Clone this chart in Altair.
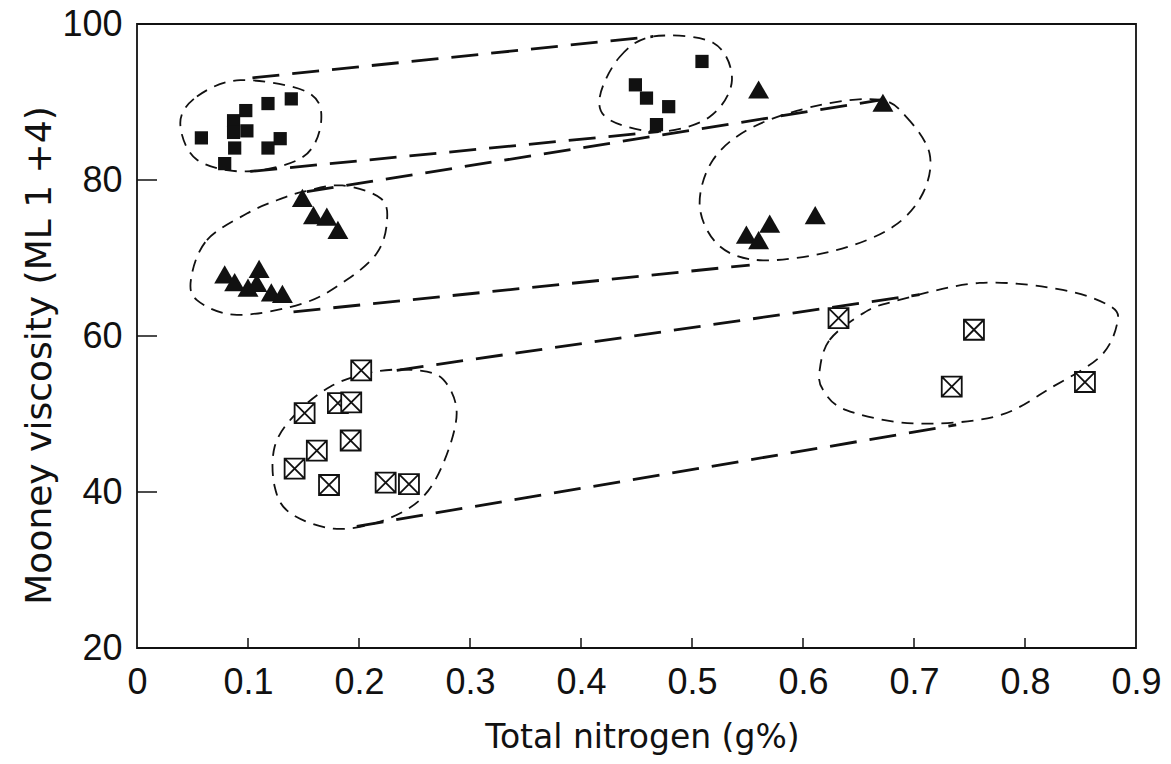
import altair as alt
import pandas as pd

# ---- data ----
# filled squares
sq_x = [0.058, 0.079, 0.088, 0.087, 0.087, 0.099, 0.098, 0.118, 0.139, 0.129, 0.118,
        0.509, 0.449, 0.459, 0.479, 0.468]
sq_y = [85.4, 82.1, 84.1, 87.6, 86.1, 86.3, 88.9, 89.8, 90.4, 85.3, 84.1,
        95.2, 92.2, 90.5, 89.4, 87.1]
# filled triangles
tri_x = [0.149, 0.159, 0.171, 0.181, 0.079, 0.088, 0.100, 0.110, 0.108, 0.121, 0.131,
         0.560, 0.672, 0.611, 0.570, 0.549, 0.560]
tri_y = [77.7, 75.5, 75.3, 73.6, 67.9, 66.9, 66.2, 68.6, 66.8, 65.6, 65.4,
         91.6, 89.9, 75.5, 74.4, 73.0, 72.3]
# crossed squares
cr_x = [0.202, 0.151, 0.181, 0.193, 0.1925, 0.162, 0.142, 0.173, 0.224, 0.245,
        0.632, 0.754, 0.734, 0.854]
cr_y = [55.6, 50.1, 51.4, 51.5, 46.6, 45.3, 43.0, 40.9, 41.2, 41.0,
        62.3, 60.8, 53.5, 54.1]

# dashed outlines round each cluster (vertices)
ell_names = ["sq_left", "sq_right", "tri_left", "tri_right", "cr_left", "cr_right"]
ell_x = [
    [0.039, 0.054, 0.093, 0.153, 0.166, 0.150, 0.099, 0.054],
    [0.417, 0.435, 0.465, 0.519, 0.536, 0.516, 0.471, 0.426],
    [0.049, 0.063, 0.099, 0.126, 0.150, 0.185, 0.220, 0.225, 0.216, 0.189, 0.150, 0.090, 0.054],
    [0.669, 0.693, 0.714, 0.708, 0.681, 0.630, 0.564, 0.525, 0.507, 0.519, 0.555, 0.615],
    [0.124, 0.141, 0.174, 0.213, 0.252, 0.276, 0.288, 0.276, 0.255, 0.219, 0.177, 0.138, 0.124],
    [0.615, 0.624, 0.654, 0.681, 0.759, 0.834, 0.877, 0.883, 0.868, 0.825, 0.774, 0.699, 0.639, 0.618],
]
ell_y = [
    [87.3, 90.7, 92.8, 91.3, 87.7, 83.0, 81.1, 82.6],
    [90.7, 95.8, 98.4, 97.6, 92.8, 88.1, 86.2, 87.7],
    [67.6, 72.3, 75.7, 77.4, 78.5, 79.3, 77.6, 74.4, 70.6, 67.2, 64.2, 62.7, 64.6],
    [90.3, 88.1, 83.4, 78.3, 74.0, 71.0, 69.7, 71.5, 76.6, 82.6, 86.8, 89.6],
    [45.8, 49.7, 53.5, 55.4, 55.6, 54.4, 50.1, 43.7, 39.0, 36.2, 35.3, 37.3, 40.7],
    [55.6, 59.5, 62.9, 64.4, 66.8, 65.9, 63.8, 61.6, 57.4, 53.5, 49.7, 48.8, 50.5, 53.1],
]

# long-dashed envelope lines joining the clusters of each series
env_names = ["sq_up", "sq_lo", "tri_up", "tri_lo", "cr_up", "cr_lo"]
env_x = [[0.104, 0.465], [0.102, 0.470], [0.153, 0.672], [0.141, 0.552], [0.234, 0.705], [0.198, 0.738]]
env_y = [[93.1, 98.4], [81.1, 86.2], [78.5, 90.3], [63.1, 69.1], [55.6, 65.3], [35.6, 48.6]]

x_ticks = [0.1, 0.2, 0.3, 0.4, 0.5, 0.6, 0.7, 0.8]
y_ticks = [40, 60, 80]
x_labels = [0, 0.1, 0.2, 0.3, 0.4, 0.5, 0.6, 0.7, 0.8, 0.9]
y_labels = [20, 40, 60, 80, 100]

# ---- tables ----
sq_df = pd.DataFrame({"x": sq_x, "y": sq_y})
tri_df = pd.DataFrame({"x": tri_x, "y": tri_y})
cr_df = pd.DataFrame({"x": cr_x, "y": cr_y})
ell_rows = []
for n, xs_, ys_ in zip(ell_names, ell_x, ell_y):
    for i, (a, b) in enumerate(zip(xs_, ys_)):
        ell_rows.append({"id": n, "i": i, "x": a, "y": b})
ell_df = pd.DataFrame(ell_rows)
env_rows = []
for n, xs_, ys_ in zip(env_names, env_x, env_y):
    for i, (a, b) in enumerate(zip(xs_, ys_)):
        env_rows.append({"id": n, "i": i, "x": a, "y": b})
env_df = pd.DataFrame(env_rows)
xt_df = pd.DataFrame({"x": x_ticks})
yt_df = pd.DataFrame({"y": y_ticks})

INK = "#111111"
xs = alt.Scale(domain=[0, 0.9], nice=False, zero=False)
ys = alt.Scale(domain=[20, 100], nice=False, zero=False)

ax_x = alt.Axis(values=x_labels, format=".1~f", title="Total nitrogen (g%)", grid=False,
                domain=False, ticks=False, tickSize=0, labelFont="Liberation Sans",
                labelFontSize=36, labelColor=INK, labelPadding=45, labelBaseline="alphabetic",
                labelFlush=False, labelOverlap=False, titleFont="DejaVu Sans", titleFontSize=33,
                titleFontWeight="normal", titleColor=INK, titleX=505, titleY=99,
                titleBaseline="alphabetic", titleAlign="center")
ax_y = alt.Axis(values=y_labels, title="Mooney viscosity (ML 1 +4)", grid=False,
                domain=False, ticks=False, tickSize=0, labelFont="Liberation Sans",
                labelFontSize=36, labelColor=INK, labelPadding=15, labelFlush=False,
                labelOverlap=False, titleFont="DejaVu Sans", titleFontSize=36,
                titleFontWeight="normal", titleColor=INK, titleX=-87, titleY=331,
                titleBaseline="alphabetic", titleAlign="center", titleAngle=270)

X = alt.X("x:Q", scale=xs, axis=ax_x)
Y = alt.Y("y:Q", scale=ys, axis=ax_y)

ellipses = alt.Chart(ell_df).mark_line(
    interpolate="cardinal-closed", strokeDash=[12, 8], strokeWidth=1.8, color=INK
).encode(x=X, y=Y, detail="id:N", order=alt.Order("i:Q"))

envelopes = alt.Chart(env_df).mark_line(
    strokeDash=[27, 13], strokeWidth=2.8, color=INK
).encode(x=X, y=Y, detail="id:N", order=alt.Order("i:Q"))

xtick_rules = alt.Chart(xt_df).mark_rule(color=INK, strokeWidth=1.5).encode(
    x=X, y=alt.value(624), y2=alt.value(614))
ytick_rules = alt.Chart(yt_df).mark_rule(color=INK, strokeWidth=1.5).encode(
    y=Y, x=alt.value(0), x2=alt.value(20))

squares = alt.Chart(sq_df).mark_point(shape="square", filled=True, size=175,
                                      color=INK, opacity=1).encode(x=X, y=Y)
triangles = alt.Chart(tri_df).mark_point(shape="triangle-up", filled=True, size=440,
                                         color=INK, opacity=1).encode(x=X, y=Y)
crossed = alt.Chart(cr_df).mark_point(
    shape="M-1,-1L1,-1L1,1L-1,1Z M-1,-1L1,1 M1,-1L-1,1",
    filled=True, fill="white", stroke=INK, strokeWidth=1.8, size=400, opacity=1
).encode(x=X, y=Y)

chart = alt.layer(ellipses, envelopes, xtick_rules, ytick_rules, squares, triangles, crossed).properties(
    width=999, height=624,
    autosize=alt.AutoSizeParams(type="none"),
    padding={"left": 137, "top": 24, "right": 35, "bottom": 116},
    background="white",
).configure_view(stroke=INK, strokeWidth=1.8)

chart.save("out.html", embed_options={"renderer": "svg", "actions": False})
